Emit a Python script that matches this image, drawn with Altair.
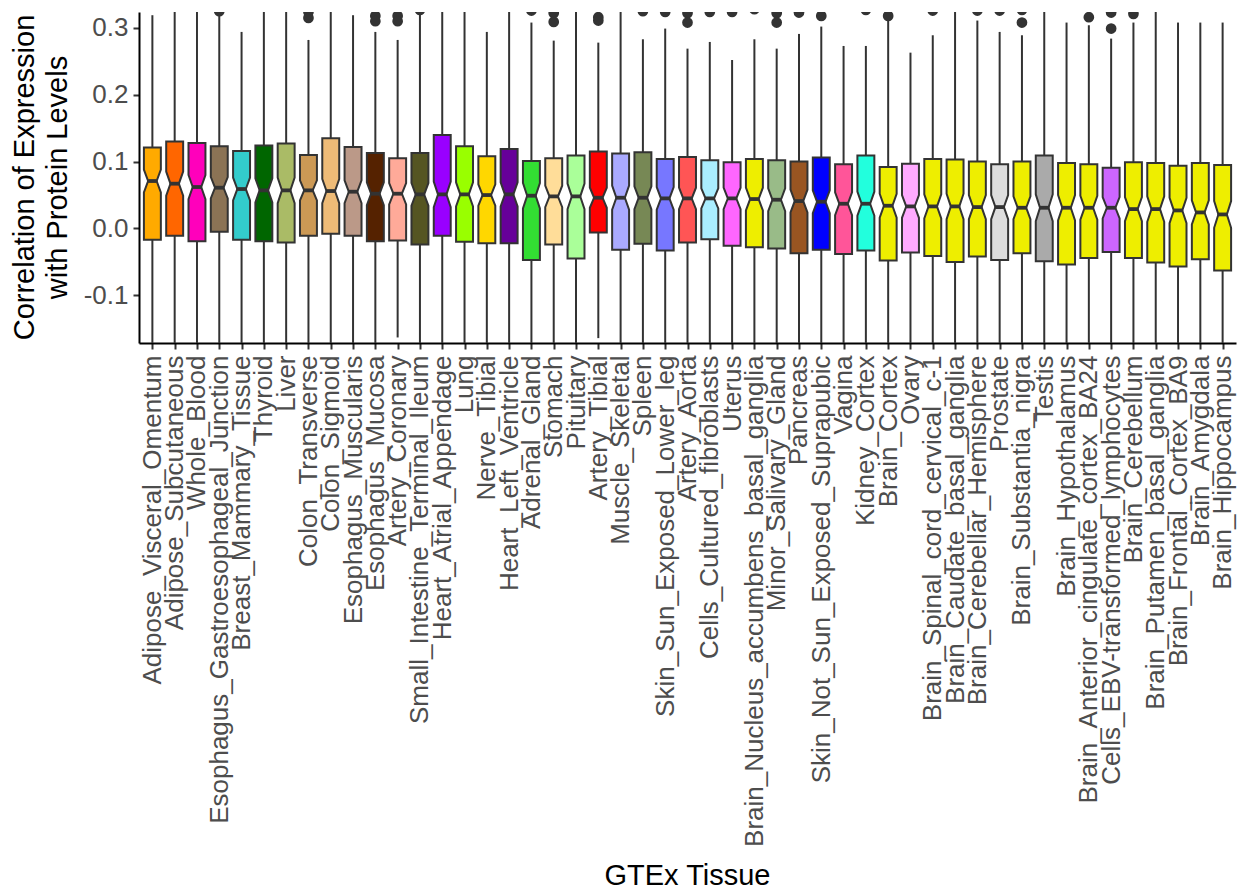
import altair as alt
import pandas as pd

# GTEx tissues, in plotting order
tissues = [
    "Adipose_Visceral_Omentum", "Adipose_Subcutaneous", "Whole_Blood",
    "Esophagus_Gastroesophageal_Junction", "Breast_Mammary_Tissue", "Thyroid",
    "Liver", "Colon_Transverse", "Colon_Sigmoid", "Esophagus_Muscularis",
    "Esophagus_Mucosa", "Artery_Coronary", "Small_Intestine_Terminal_Ileum",
    "Heart_Atrial_Appendage", "Lung", "Nerve_Tibial", "Heart_Left_Ventricle",
    "Adrenal_Gland", "Stomach", "Pituitary", "Artery_Tibial", "Muscle_Skeletal",
    "Spleen", "Skin_Sun_Exposed_Lower_leg", "Artery_Aorta",
    "Cells_Cultured_fibroblasts", "Uterus", "Brain_Nucleus_accumbens_basal_ganglia",
    "Minor_Salivary_Gland", "Pancreas", "Skin_Not_Sun_Exposed_Suprapubic",
    "Vagina", "Kidney_Cortex", "Brain_Cortex", "Ovary",
    "Brain_Spinal_cord_cervical_c-1", "Brain_Caudate_basal_ganglia",
    "Brain_Cerebellar_Hemisphere", "Prostate", "Brain_Substantia_nigra",
    "Testis", "Brain_Hypothalamus", "Brain_Anterior_cingulate_cortex_BA24",
    "Cells_EBV-transformed_lymphocytes", "Brain_Cerebellum",
    "Brain_Putamen_basal_ganglia", "Brain_Frontal_Cortex_BA9",
    "Brain_Amygdala", "Brain_Hippocampus",
]

# GTEx tissue colours
fills = [
    "#FFAA00", "#FF6600", "#FF00BB", "#8B7355", "#33CCCC", "#006600",
    "#AABB66", "#CC9955", "#EEBB77", "#BB9988", "#552200", "#FFAA99",
    "#555522", "#9900FF", "#99FF00", "#FFD700", "#660099", "#33DD33",
    "#FFDD99", "#AAFF99", "#FF0000", "#AAAAFF", "#778855", "#7777FF",
    "#FF5555", "#AAEEFF", "#FF66FF", "#EEEE00", "#99BB88", "#995522",
    "#0000FF", "#FF5599", "#22FFDD", "#EEEE00", "#FFAAFF", "#EEEE00",
    "#EEEE00", "#EEEE00", "#DDDDDD", "#EEEE00", "#AAAAAA", "#EEEE00",
    "#EEEE00", "#CC66FF", "#EEEE00", "#EEEE00", "#EEEE00", "#EEEE00",
    "#EEEE00",
]

q1 = [
    -0.017, -0.011, -0.019, -0.005, -0.017, -0.019, -0.021, -0.011, -0.008,
    -0.011, -0.019, -0.018, -0.024, -0.011, -0.020, -0.022, -0.022, -0.047,
    -0.024, -0.045, -0.006, -0.032, -0.023, -0.033, -0.021, -0.016, -0.026,
    -0.028, -0.030, -0.037, -0.032, -0.038, -0.033, -0.048, -0.036, -0.041,
    -0.050, -0.042, -0.047, -0.037, -0.049, -0.054, -0.044, -0.035, -0.044,
    -0.051, -0.057, -0.046, -0.063,
]
median = [
    0.071, 0.067, 0.062, 0.061, 0.059, 0.057, 0.057, 0.057, 0.056, 0.055,
    0.052, 0.052, 0.051, 0.051, 0.051, 0.050, 0.051, 0.049, 0.048, 0.048,
    0.046, 0.046, 0.046, 0.045, 0.045, 0.045, 0.045, 0.044, 0.043, 0.041,
    0.040, 0.037, 0.037, 0.034, 0.033, 0.033, 0.033, 0.032, 0.032, 0.031,
    0.031, 0.031, 0.031, 0.031, 0.029, 0.029, 0.027, 0.024, 0.021,
]
q3 = [
    0.121, 0.130, 0.128, 0.123, 0.116, 0.124, 0.127, 0.110, 0.135, 0.122,
    0.113, 0.105, 0.113, 0.140, 0.123, 0.108, 0.119, 0.101, 0.105, 0.109,
    0.115, 0.112, 0.114, 0.104, 0.107, 0.102, 0.099, 0.104, 0.102, 0.100,
    0.106, 0.096, 0.109, 0.092, 0.097, 0.104, 0.103, 0.100, 0.096, 0.100,
    0.109, 0.098, 0.096, 0.091, 0.099, 0.098, 0.094, 0.098, 0.095,
]
whisker_lo = [
    -0.20, -0.20, -0.20, -0.20, -0.20, -0.20, -0.20, -0.20, -0.20, -0.20,
    -0.20, -0.163, -0.20, -0.20, -0.20, -0.20, -0.20, -0.20, -0.20, -0.20,
    -0.164, -0.20, -0.20, -0.20, -0.20, -0.20, -0.20, -0.20, -0.20, -0.20,
    -0.20, -0.20, -0.20, -0.20, -0.20, -0.20, -0.20, -0.20, -0.20, -0.20,
    -0.20, -0.20, -0.20, -0.20, -0.20, -0.20, -0.20, -0.20, -0.20,
]
whisker_hi = [
    0.319, 0.34, 0.34, 0.318, 0.294, 0.34, 0.34, 0.282, 0.34, 0.319,
    0.294, 0.282, 0.34, 0.34, 0.34, 0.294, 0.34, 0.308, 0.281, 0.34,
    0.278, 0.34, 0.283, 0.299, 0.269, 0.279, 0.252, 0.283, 0.269, 0.291,
    0.302, 0.273, 0.273, 0.312, 0.263, 0.289, 0.34, 0.311, 0.294, 0.289,
    0.34, 0.308, 0.304, 0.284, 0.308, 0.34, 0.308, 0.308, 0.308,
]
# half-height of the notch around each median
notch = [
    0.017, 0.018, 0.018, 0.016, 0.017, 0.018, 0.019, 0.015, 0.018, 0.017,
    0.017, 0.016, 0.017, 0.019, 0.018, 0.016, 0.018, 0.019, 0.016, 0.019,
    0.015, 0.018, 0.017, 0.017, 0.016, 0.015, 0.016, 0.017, 0.017, 0.017,
    0.017, 0.017, 0.018, 0.018, 0.017, 0.018, 0.019, 0.018, 0.018, 0.017,
    0.020, 0.019, 0.018, 0.016, 0.018, 0.019, 0.019, 0.018, 0.020,
]

outlier_tissue = [
    "Esophagus_Gastroesophageal_Junction", "Colon_Transverse", "Colon_Transverse",
    "Esophagus_Mucosa", "Esophagus_Mucosa", "Artery_Coronary", "Artery_Coronary",
    "Small_Intestine_Terminal_Ileum", "Adrenal_Gland", "Stomach", "Stomach",
    "Artery_Tibial", "Artery_Tibial", "Spleen", "Skin_Sun_Exposed_Lower_leg",
    "Artery_Aorta", "Artery_Aorta", "Cells_Cultured_fibroblasts", "Uterus",
    "Brain_Nucleus_accumbens_basal_ganglia", "Minor_Salivary_Gland",
    "Minor_Salivary_Gland", "Pancreas", "Skin_Not_Sun_Exposed_Suprapubic",
    "Kidney_Cortex", "Brain_Cortex", "Brain_Spinal_cord_cervical_c-1",
    "Brain_Cerebellar_Hemisphere", "Prostate", "Brain_Substantia_nigra",
    "Brain_Substantia_nigra", "Brain_Anterior_cingulate_cortex_BA24",
    "Cells_EBV-transformed_lymphocytes", "Cells_EBV-transformed_lymphocytes",
    "Brain_Cerebellum",
]
outlier_value = [
    0.325, 0.324, 0.315, 0.318, 0.310, 0.318, 0.310,
    0.327, 0.326, 0.322, 0.309,
    0.316, 0.311, 0.325, 0.324,
    0.322, 0.308, 0.324, 0.324,
    0.328, 0.322,
    0.308, 0.323, 0.318,
    0.327, 0.318, 0.326,
    0.326, 0.326, 0.327,
    0.308, 0.316,
    0.323, 0.299,
    0.321,
]

BOX_HALF = 0.38      # half box width, in category units
NOTCH_HALF = 0.19    # half width at the notch waist
Y_MIN, Y_MAX = -0.1713, 0.3238
INK = "#333333"
FONT = "Liberation Sans"
LINE_W = 2.0

pos = {t: i for i, t in enumerate(tissues)}

# each notched box = lower half (q1 .. notch) + upper half (notch .. q3),
# both drawn as ranged areas across the box width
half_rows = []
for i, t in enumerate(tissues):
    xs = [i - BOX_HALF, i - NOTCH_HALF, i + NOTCH_HALF, i + BOX_HALF]
    lo_top = [median[i] - notch[i], median[i], median[i], median[i] - notch[i]]
    hi_bot = [median[i] + notch[i], median[i], median[i], median[i] + notch[i]]
    for xv, a in zip(xs, lo_top):
        half_rows.append({"part": t + "|lo", "tissue": t, "x": xv, "b": q1[i], "t": a})
    for xv, a in zip(xs, hi_bot):
        half_rows.append({"part": t + "|hi", "tissue": t, "x": xv, "b": a, "t": q3[i]})
halves = pd.DataFrame(half_rows)

stats = pd.DataFrame({
    "tissue": tissues,
    "pos": list(range(len(tissues))),
    "q1": q1, "median": median, "q3": q3,
    "lo": whisker_lo, "hi": whisker_hi,
})
stats["ml"] = stats["pos"] - NOTCH_HALF
stats["mr"] = stats["pos"] + NOTCH_HALF

outliers = pd.DataFrame({"tissue": outlier_tissue, "value": outlier_value})
outliers["pos"] = outliers["tissue"].map(pos)

label_array = "[" + ",".join("'" + t + "'" for t in tissues) + "]"

x_scale = alt.Scale(domain=[-0.6, len(tissues) - 0.4], nice=False, zero=False)
y_scale = alt.Scale(domain=[Y_MIN, Y_MAX], nice=False, zero=False)

x_axis = alt.Axis(
    title="GTEx Tissue",
    values=list(range(len(tissues))),
    labelExpr=label_array + "[datum.value]",
    labelAngle=-90,
    labelOverlap=False,
    labelFlush=False,
    labelBound=False,
    labelLimit=1000,
    labelPadding=6,
    grid=False,
    titleX=548,
    titleY=532,
    titleAlign="center",
    titleBaseline="middle",
)
y_axis = alt.Axis(
    title=["Correlation of Expression", "with Protein Levels"],
    values=[-0.1, 0.0, 0.1, 0.2, 0.3],
    labelExpr="datum.value < 0 ? '-' + format(-datum.value, '.1f') : format(datum.value, '.1f')",
    labelPadding=5,
    labelOverlap=False,
    grid=False,
    titleX=-115,
    titleY=165,
    titleAngle=-90,
    titleAlign="center",
    titleBaseline="middle",
    titleLineHeight=33,
)

X = lambda f: alt.X(f, scale=x_scale, axis=x_axis)
Y = lambda f: alt.Y(f, scale=y_scale, axis=y_axis)

whisk_lo = alt.Chart(stats).mark_rule(color=INK, strokeWidth=LINE_W, clip=True).encode(
    x=X("pos:Q"), y=Y("lo:Q"), y2="q1:Q",
)
whisk_hi = alt.Chart(stats).mark_rule(color=INK, strokeWidth=LINE_W, clip=True).encode(
    x=X("pos:Q"), y=Y("q3:Q"), y2="hi:Q",
)

boxes = alt.Chart(halves).mark_area(
    stroke=INK, strokeWidth=LINE_W, strokeJoin="miter", opacity=1, clip=True
).encode(
    x=X("x:Q"),
    y=Y("b:Q"),
    y2="t:Q",
    detail="part:N",
    fill=alt.Fill("tissue:N", scale=alt.Scale(domain=tissues, range=fills), legend=None),
)

medians = alt.Chart(stats).mark_rule(color=INK, strokeWidth=3.8, clip=True).encode(
    x=X("ml:Q"), x2="mr:Q", y=Y("median:Q"),
)

points = alt.Chart(outliers).mark_circle(size=115, color=INK, opacity=1, clip=True).encode(
    x=X("pos:Q"), y=Y("value:Q"),
)

chart = alt.layer(whisk_lo, whisk_hi, boxes, medians, points).properties(
    width=1097,
    height=331,
    autosize=alt.AutoSizeParams(type="none"),
    padding={"left": 139, "top": 12, "right": 2, "bottom": 547},
    background="white",
).configure_view(
    stroke=None
).configure_axis(
    domainColor="black",
    domainWidth=2,
    tickColor=INK,
    tickWidth=LINE_W,
    tickSize=6,
    labelOverlap=False,
    labelFont=FONT,
    labelFontSize=26,
    labelColor="#4D4D4D",
    titleFont=FONT,
    titleFontSize=29,
    titleFontWeight="normal",
    titleColor="black",
)

chart.save("out.html", embed_options={"renderer": "svg", "actions": False})
